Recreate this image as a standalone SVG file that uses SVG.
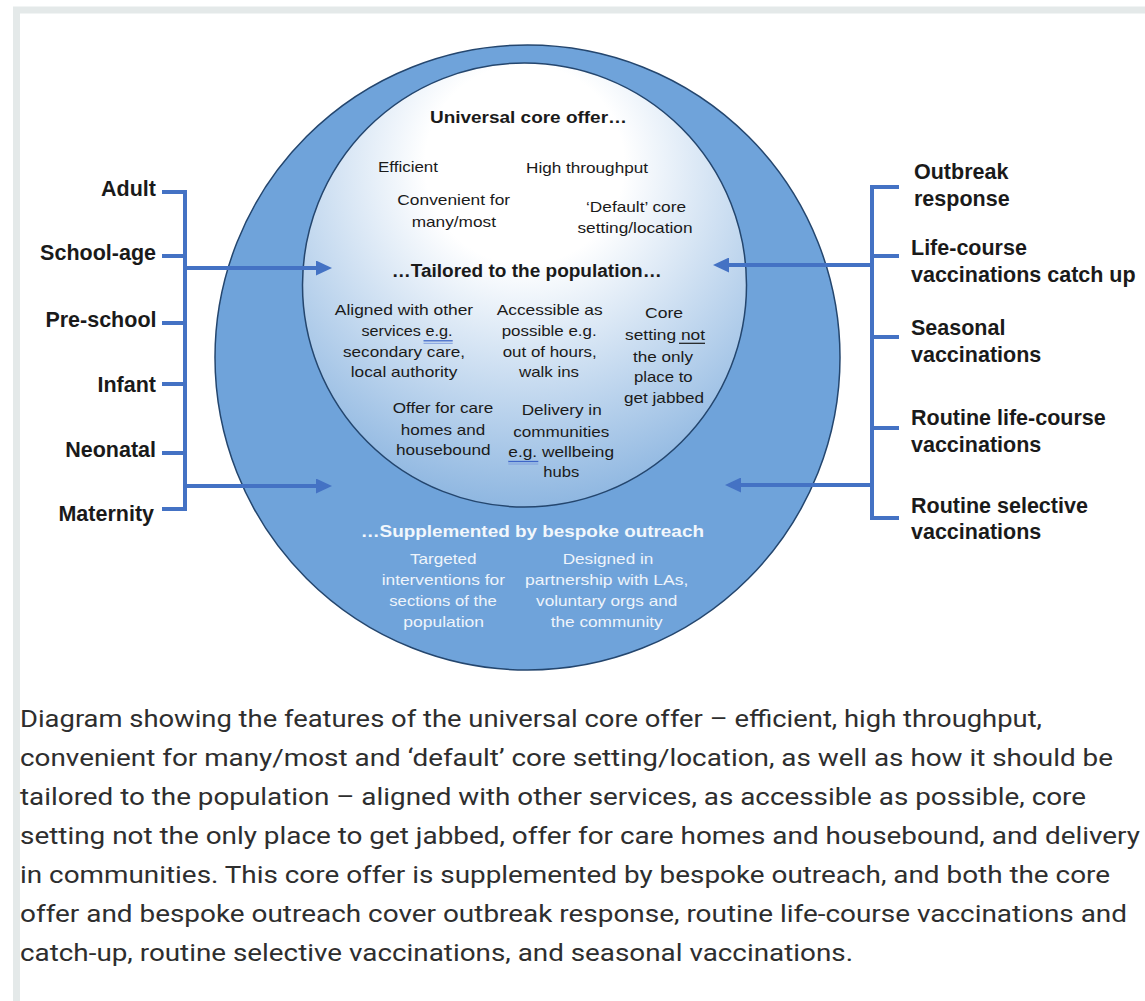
<svg xmlns="http://www.w3.org/2000/svg" width="1145" height="1001" viewBox="0 0 1145 1001">
  <defs>
    <radialGradient id="ig" cx="0.5" cy="0.25" r="0.8" fx="0.5" fy="0.22">
      <stop offset="0" stop-color="#ffffff"/>
      <stop offset="0.28" stop-color="#ffffff"/>
      <stop offset="1" stop-color="#84b0de"/>
    </radialGradient>
    <marker id="ah" markerUnits="userSpaceOnUse" viewBox="0 0 16 15" markerWidth="16" markerHeight="15" refX="6" refY="7.5" orient="auto">
      <path d="M0,0 L16,7.5 L0,15 z" fill="#4472c4"/>
    </marker>
    <style>
      .lbl { font-family: "Liberation Sans", Arial, sans-serif; font-weight: bold; font-size: 21.5px; fill: #1a1a1a; }
      .in { font-family: "Liberation Sans", Arial, sans-serif; font-size: 15px; fill: #1a1a1a; text-anchor: middle; }
      .inb { font-family: "Liberation Sans", Arial, sans-serif; font-weight: bold; fill: #1a1a1a; text-anchor: middle; }
      .out { font-family: "Liberation Sans", Arial, sans-serif; font-size: 15px; fill: #eef4fb; text-anchor: middle; }
      .outb { font-family: "Liberation Sans", Arial, sans-serif; font-weight: bold; font-size: 17px; fill: #f2f7fc; text-anchor: middle; }
      .cap { font-family: Roboto, "Liberation Sans", sans-serif; font-size: 23.5px; fill: #2e2e2e; }
      .br { fill: none; stroke: #4472c4; stroke-width: 4; }
      .ar { fill: none; stroke: #4472c4; stroke-width: 4; marker-end: url(#ah); }
    </style>
  </defs>

  <rect x="0" y="0" width="1145" height="1001" fill="#ffffff"/>
  <rect x="16.5" y="10" width="1200" height="1100" fill="#ffffff" stroke="#e4e9e9" stroke-width="7"/>

  <g id="outer-circle">
    <circle cx="527.5" cy="357.5" r="312.5" fill="#6fa3da" stroke="#24466e" stroke-width="1.5"/>
  </g>
  <g id="inner-circle">
    <circle cx="524.5" cy="285" r="222" fill="url(#ig)" stroke="#24466e" stroke-width="1.5"/>
  </g>

  <g id="core-offer">
    <text class="inb" x="528.5" y="123.3" font-size="16" textLength="197" lengthAdjust="spacingAndGlyphs">Universal core offer…</text>
    <text class="in" x="408" y="171.7" font-size="14.5" textLength="60" lengthAdjust="spacingAndGlyphs">Efficient</text>
    <text class="in" x="587" y="172.5" font-size="14.5" textLength="122" lengthAdjust="spacingAndGlyphs">High throughput</text>
    <text class="in" x="453.7" y="205" textLength="112.7" lengthAdjust="spacingAndGlyphs">Convenient for</text>
    <text class="in" x="453.8" y="226.7" textLength="84.3" lengthAdjust="spacingAndGlyphs">many/most</text>
    <text class="in" x="636" y="211.7" textLength="100" lengthAdjust="spacingAndGlyphs">‘Default’ core</text>
    <text class="in" x="635" y="233.3" textLength="115" lengthAdjust="spacingAndGlyphs">setting/location</text>
  </g>

  <g id="tailored">
    <text class="inb" x="526.7" y="276.7" font-size="18" textLength="270" lengthAdjust="spacingAndGlyphs">…Tailored to the population…</text>
    <text class="in" x="404" y="315" textLength="138.3" lengthAdjust="spacingAndGlyphs">Aligned with other</text>
    <text class="in" x="407" y="336" textLength="91" lengthAdjust="spacingAndGlyphs">services e.g.</text>
    <text class="in" x="404" y="356.7" textLength="122" lengthAdjust="spacingAndGlyphs">secondary care,</text>
    <text class="in" x="404" y="377.3" textLength="106.6" lengthAdjust="spacingAndGlyphs">local authority</text>
    <text class="in" x="549.7" y="315" textLength="106" lengthAdjust="spacingAndGlyphs">Accessible as</text>
    <text class="in" x="549.2" y="336" textLength="95" lengthAdjust="spacingAndGlyphs">possible e.g.</text>
    <text class="in" x="549.7" y="356.7" textLength="94" lengthAdjust="spacingAndGlyphs">out of hours,</text>
    <text class="in" x="549" y="377.3" textLength="60" lengthAdjust="spacingAndGlyphs">walk ins</text>
    <text class="in" x="664" y="318.3" textLength="38" lengthAdjust="spacingAndGlyphs">Core</text>
    <text class="in" x="665" y="340" textLength="80" lengthAdjust="spacingAndGlyphs">setting not</text>
    <text class="in" x="663" y="361.7" textLength="60" lengthAdjust="spacingAndGlyphs">the only</text>
    <text class="in" x="663.3" y="381.7" textLength="58.7" lengthAdjust="spacingAndGlyphs">place to</text>
    <text class="in" x="664" y="402.7" textLength="80" lengthAdjust="spacingAndGlyphs">get jabbed</text>
    <text class="in" x="443" y="413.3" textLength="100.6" lengthAdjust="spacingAndGlyphs">Offer for care</text>
    <text class="in" x="443" y="435" textLength="84.3" lengthAdjust="spacingAndGlyphs">homes and</text>
    <text class="in" x="443.3" y="455" textLength="94.7" lengthAdjust="spacingAndGlyphs">housebound</text>
    <text class="in" x="561.7" y="415" textLength="80" lengthAdjust="spacingAndGlyphs">Delivery in</text>
    <text class="in" x="561.3" y="436.7" textLength="96" lengthAdjust="spacingAndGlyphs">communities</text>
    <text class="in" x="561.2" y="456.7" textLength="105.7" lengthAdjust="spacingAndGlyphs">e.g. wellbeing</text>
    <text class="in" x="561.3" y="476.7" textLength="36" lengthAdjust="spacingAndGlyphs">hubs</text>
    <line x1="423.5" y1="340.8" x2="452.7" y2="340.8" stroke="#3f66c8" stroke-width="1.3"/>
    <line x1="423.5" y1="343.3" x2="452.7" y2="343.3" stroke="#7f9ede" stroke-width="1"/>
    <line x1="508.3" y1="461.5" x2="538.3" y2="461.5" stroke="#3f66c8" stroke-width="1.3"/>
    <line x1="508.3" y1="464" x2="538.3" y2="464" stroke="#7f9ede" stroke-width="1"/>
    <line x1="679" y1="343.3" x2="705" y2="343.3" stroke="#1a1a1a" stroke-width="1.2"/>
  </g>

  <g id="outreach">
    <text class="outb" x="532.3" y="537.3" textLength="343.3" lengthAdjust="spacingAndGlyphs">…Supplemented by bespoke outreach</text>
    <text class="out" x="443.3" y="564" textLength="66.7" lengthAdjust="spacingAndGlyphs">Targeted</text>
    <text class="out" x="443.3" y="585" textLength="123.3" lengthAdjust="spacingAndGlyphs">interventions for</text>
    <text class="out" x="443" y="606" textLength="107.4" lengthAdjust="spacingAndGlyphs">sections of the</text>
    <text class="out" x="443.7" y="626.7" textLength="80.7" lengthAdjust="spacingAndGlyphs">population</text>
    <text class="out" x="608" y="564" textLength="90.6" lengthAdjust="spacingAndGlyphs">Designed in</text>
    <text class="out" x="606.7" y="585" textLength="163.3" lengthAdjust="spacingAndGlyphs">partnership with LAs,</text>
    <text class="out" x="606.7" y="606" textLength="141.3" lengthAdjust="spacingAndGlyphs">voluntary orgs and</text>
    <text class="out" x="606.7" y="626.7" textLength="112" lengthAdjust="spacingAndGlyphs">the community</text>
  </g>

  <g id="connectors">
    <path class="br" d="M162,192 H185 V509 H162 M162,256 H185 M162,323 H185 M162,384 H185 M162,453 H185"/>
    <path class="br" d="M899,187 H872 V518 H899 M899,256 H872 M899,337 H872 M899,428 H872"/>
    <line class="ar" x1="185" y1="268" x2="322" y2="268"/>
    <line class="ar" x1="185" y1="486" x2="322" y2="486"/>
    <line class="ar" x1="872" y1="265" x2="723" y2="265"/>
    <line class="ar" x1="872" y1="485" x2="735" y2="485"/>
  </g>

  <g id="age-groups" text-anchor="end">
    <text class="lbl" x="156" y="195.7">Adult</text>
    <text class="lbl" x="156" y="260">School-age</text>
    <text class="lbl" x="156.5" y="326.7">Pre-school</text>
    <text class="lbl" x="156" y="392.3">Infant</text>
    <text class="lbl" x="156" y="456.7">Neonatal</text>
    <text class="lbl" x="154" y="521">Maternity</text>
  </g>

  <g id="programmes">
    <text class="lbl" x="914"><tspan x="914" y="179">Outbreak</tspan><tspan x="914" y="206">response</tspan></text>
    <text class="lbl" x="911"><tspan x="911" y="255">Life-course</tspan><tspan x="911" y="282">vaccinations catch up</tspan></text>
    <text class="lbl" x="911"><tspan x="911" y="335">Seasonal</tspan><tspan x="911" y="362">vaccinations</tspan></text>
    <text class="lbl" x="911"><tspan x="911" y="425">Routine life-course</tspan><tspan x="911" y="452">vaccinations</tspan></text>
    <text class="lbl" x="911"><tspan x="911" y="513">Routine selective</tspan><tspan x="911" y="539">vaccinations</tspan></text>
  </g>

  <g id="caption">
    <text class="cap" x="20" y="727" textLength="1022" lengthAdjust="spacingAndGlyphs">Diagram showing the features of the universal core offer – efficient, high throughput,</text>
    <text class="cap" x="20" y="766" textLength="1093" lengthAdjust="spacingAndGlyphs">convenient for many/most and ‘default’ core setting/location, as well as how it should be</text>
    <text class="cap" x="20" y="805" textLength="1066" lengthAdjust="spacingAndGlyphs">tailored to the population – aligned with other services, as accessible as possible, core</text>
    <text class="cap" x="20" y="844" textLength="1120" lengthAdjust="spacingAndGlyphs">setting not the only place to get jabbed, offer for care homes and housebound, and delivery</text>
    <text class="cap" x="20" y="883" textLength="1090" lengthAdjust="spacingAndGlyphs">in communities. This core offer is supplemented by bespoke outreach, and both the core</text>
    <text class="cap" x="20" y="922" textLength="1107" lengthAdjust="spacingAndGlyphs">offer and bespoke outreach cover outbreak response, routine life-course vaccinations and</text>
    <text class="cap" x="20" y="961" textLength="833" lengthAdjust="spacingAndGlyphs">catch-up, routine selective vaccinations, and seasonal vaccinations.</text>
  </g>
</svg>
